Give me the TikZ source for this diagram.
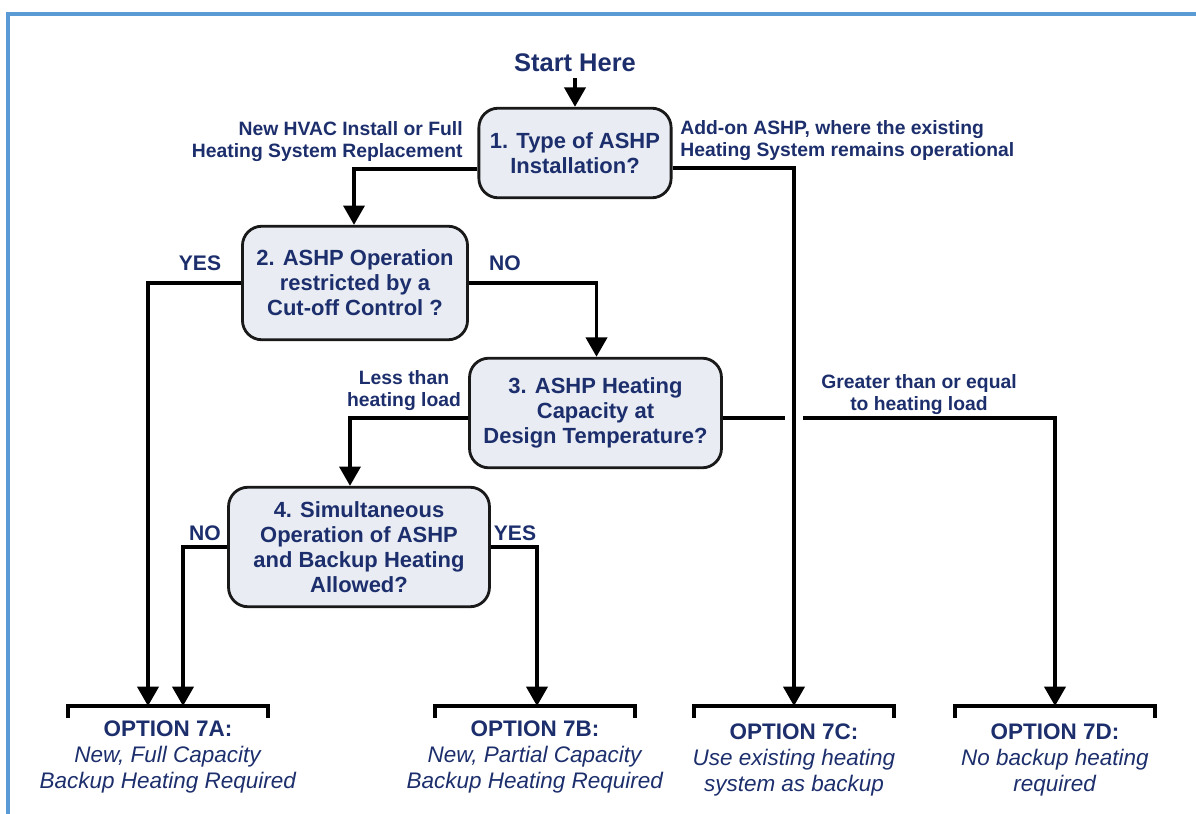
\documentclass[tikz,border=0pt]{standalone}
\usepackage{fontspec}
\setmainfont{Liberation Sans}
\usetikzlibrary{arrows.meta,calc}
\definecolor{navy}{RGB}{28,46,108}
\definecolor{boxfill}{RGB}{233,237,243}
\definecolor{framebl}{RGB}{91,155,213}

\begin{document}
\begin{tikzpicture}[x=0.02cm,y=-0.02cm,
    question/.style={draw=black!90,line width=1.6pt,fill=boxfill,rounded corners=11pt,
      align=center,text=navy,font=\bfseries\fontsize{12.5}{14.2}\selectfont,inner sep=0pt},
    lbl/.style={text=navy,font=\bfseries\fontsize{11}{12.5}\selectfont,inner sep=0pt},
    yn/.style={text=navy,font=\bfseries\fontsize{12}{14}\selectfont,inner sep=0pt},
    option/.style={text=navy,align=center,font=\fontsize{12.8}{14.9}\selectfont,inner sep=0pt},
    flow/.style={line width=2pt,-{Triangle[width=12pt,length=11pt]}},
    wire/.style={line width=2pt},
    bracket/.style={line width=2pt}]
    \useasboundingbox (0,0) rectangle (1196,814);
    \draw[framebl,line width=1.8pt] (8,814) -- (8,14) -- (1196,14);

    % decision boxes
    \node[text=navy,font=\bfseries\fontsize{14.5}{17}\selectfont] (start) at (575,63) {Start Here};
    \node[question,minimum width=109.4pt,minimum height=51pt] (q1) at (575,153) {1. Type of ASHP\\Installation?};
    \node[question,minimum width=128.1pt,minimum height=64.6pt] (q2) at (355,283) {2. ASHP Operation\\restricted by a\\Cut-off Control ?};
    \node[question,minimum width=143.4pt,minimum height=62.4pt] (q3) at (595.5,413) {3. ASHP Heating\\Capacity at\\Design Temperature?};
    \node[question,minimum width=148.5pt,minimum height=68pt] (q4) at (359,547) {4. Simultaneous\\Operation of ASHP\\and Backup Heating\\Allowed?};

    % outcomes
    \coordinate (b7a) at (168,706);
    \coordinate (b7b) at (535,706);
    \coordinate (b7c) at (794,706);
    \coordinate (b7d) at (1055,706);
    \node[option] (o7a) at (168,757) {\textbf{OPTION 7A:}\\\textit{New, Full Capacity}\\\textit{Backup Heating Required}};
    \node[option] (o7b) at (535,757) {\textbf{OPTION 7B:}\\\textit{New, Partial Capacity}\\\textit{Backup Heating Required}};
    \node[option] (o7c) at (794,760) {\textbf{OPTION 7C:}\\\textit{Use existing heating}\\\textit{system as backup}};
    \node[option] (o7d) at (1055,760) {\textbf{OPTION 7D:}\\\textit{No backup heating}\\\textit{required}};
    \foreach \b in {b7a,b7b,b7c,b7d}
        \draw[bracket] ($(\b)+(-100,12)$) |- ($(\b)+(100,0)$) -- ++(0,12);

    % branch labels
    \node[lbl,anchor=east,align=right] (lnew) at (463,142) {New HVAC Install or Full\\Heating System Replacement};
    \node[lbl,anchor=west,align=left] (ladd) at (680,141) {Add-on ASHP, where the existing\\Heating System remains operational};
    \node[yn] (yes2) at (200,263) {YES};
    \node[yn] (no2) at (505,263) {NO};
    \node[lbl,align=center] (lless) at (404,391) {Less than\\heating load};
    \node[lbl,align=center] (lgreat) at (919,395) {Greater than or equal\\to heating load};
    \node[yn] (no4) at (205,533) {NO};
    \node[yn] (yes4) at (515,533) {YES};

    % connectors
    \draw[flow] (start.south) -- (q1.north);
    \draw[flow] ($(q1.west)+(0,16)$) -| ($(q2.north)+(-1,0)$);
    \draw[flow] ($(q1.east)+(0,15)$) -| (b7c);
    \draw[flow] (q2.west) -| ($(b7a)+(-20,0)$);
    \draw[flow] (q2.east) -| ($(q3.north)+(1,0)$);
    \draw[flow] ($(q3.west)+(0,5)$) -| ($(q4.north)+(-9,0)$);
    \draw[wire] ($(q3.east)+(0,5)$) -- ($(q3.east -| b7c)+(-9,5)$);
    \draw[flow] ($(q3.east -| b7c)+(9,5)$) -| (b7d);
    \draw[flow] (q4.west) -| ($(b7a)+(15,0)$);
    \draw[flow] (q4.east) -| ($(b7b)+(2,0)$);
\end{tikzpicture}
\end{document}
